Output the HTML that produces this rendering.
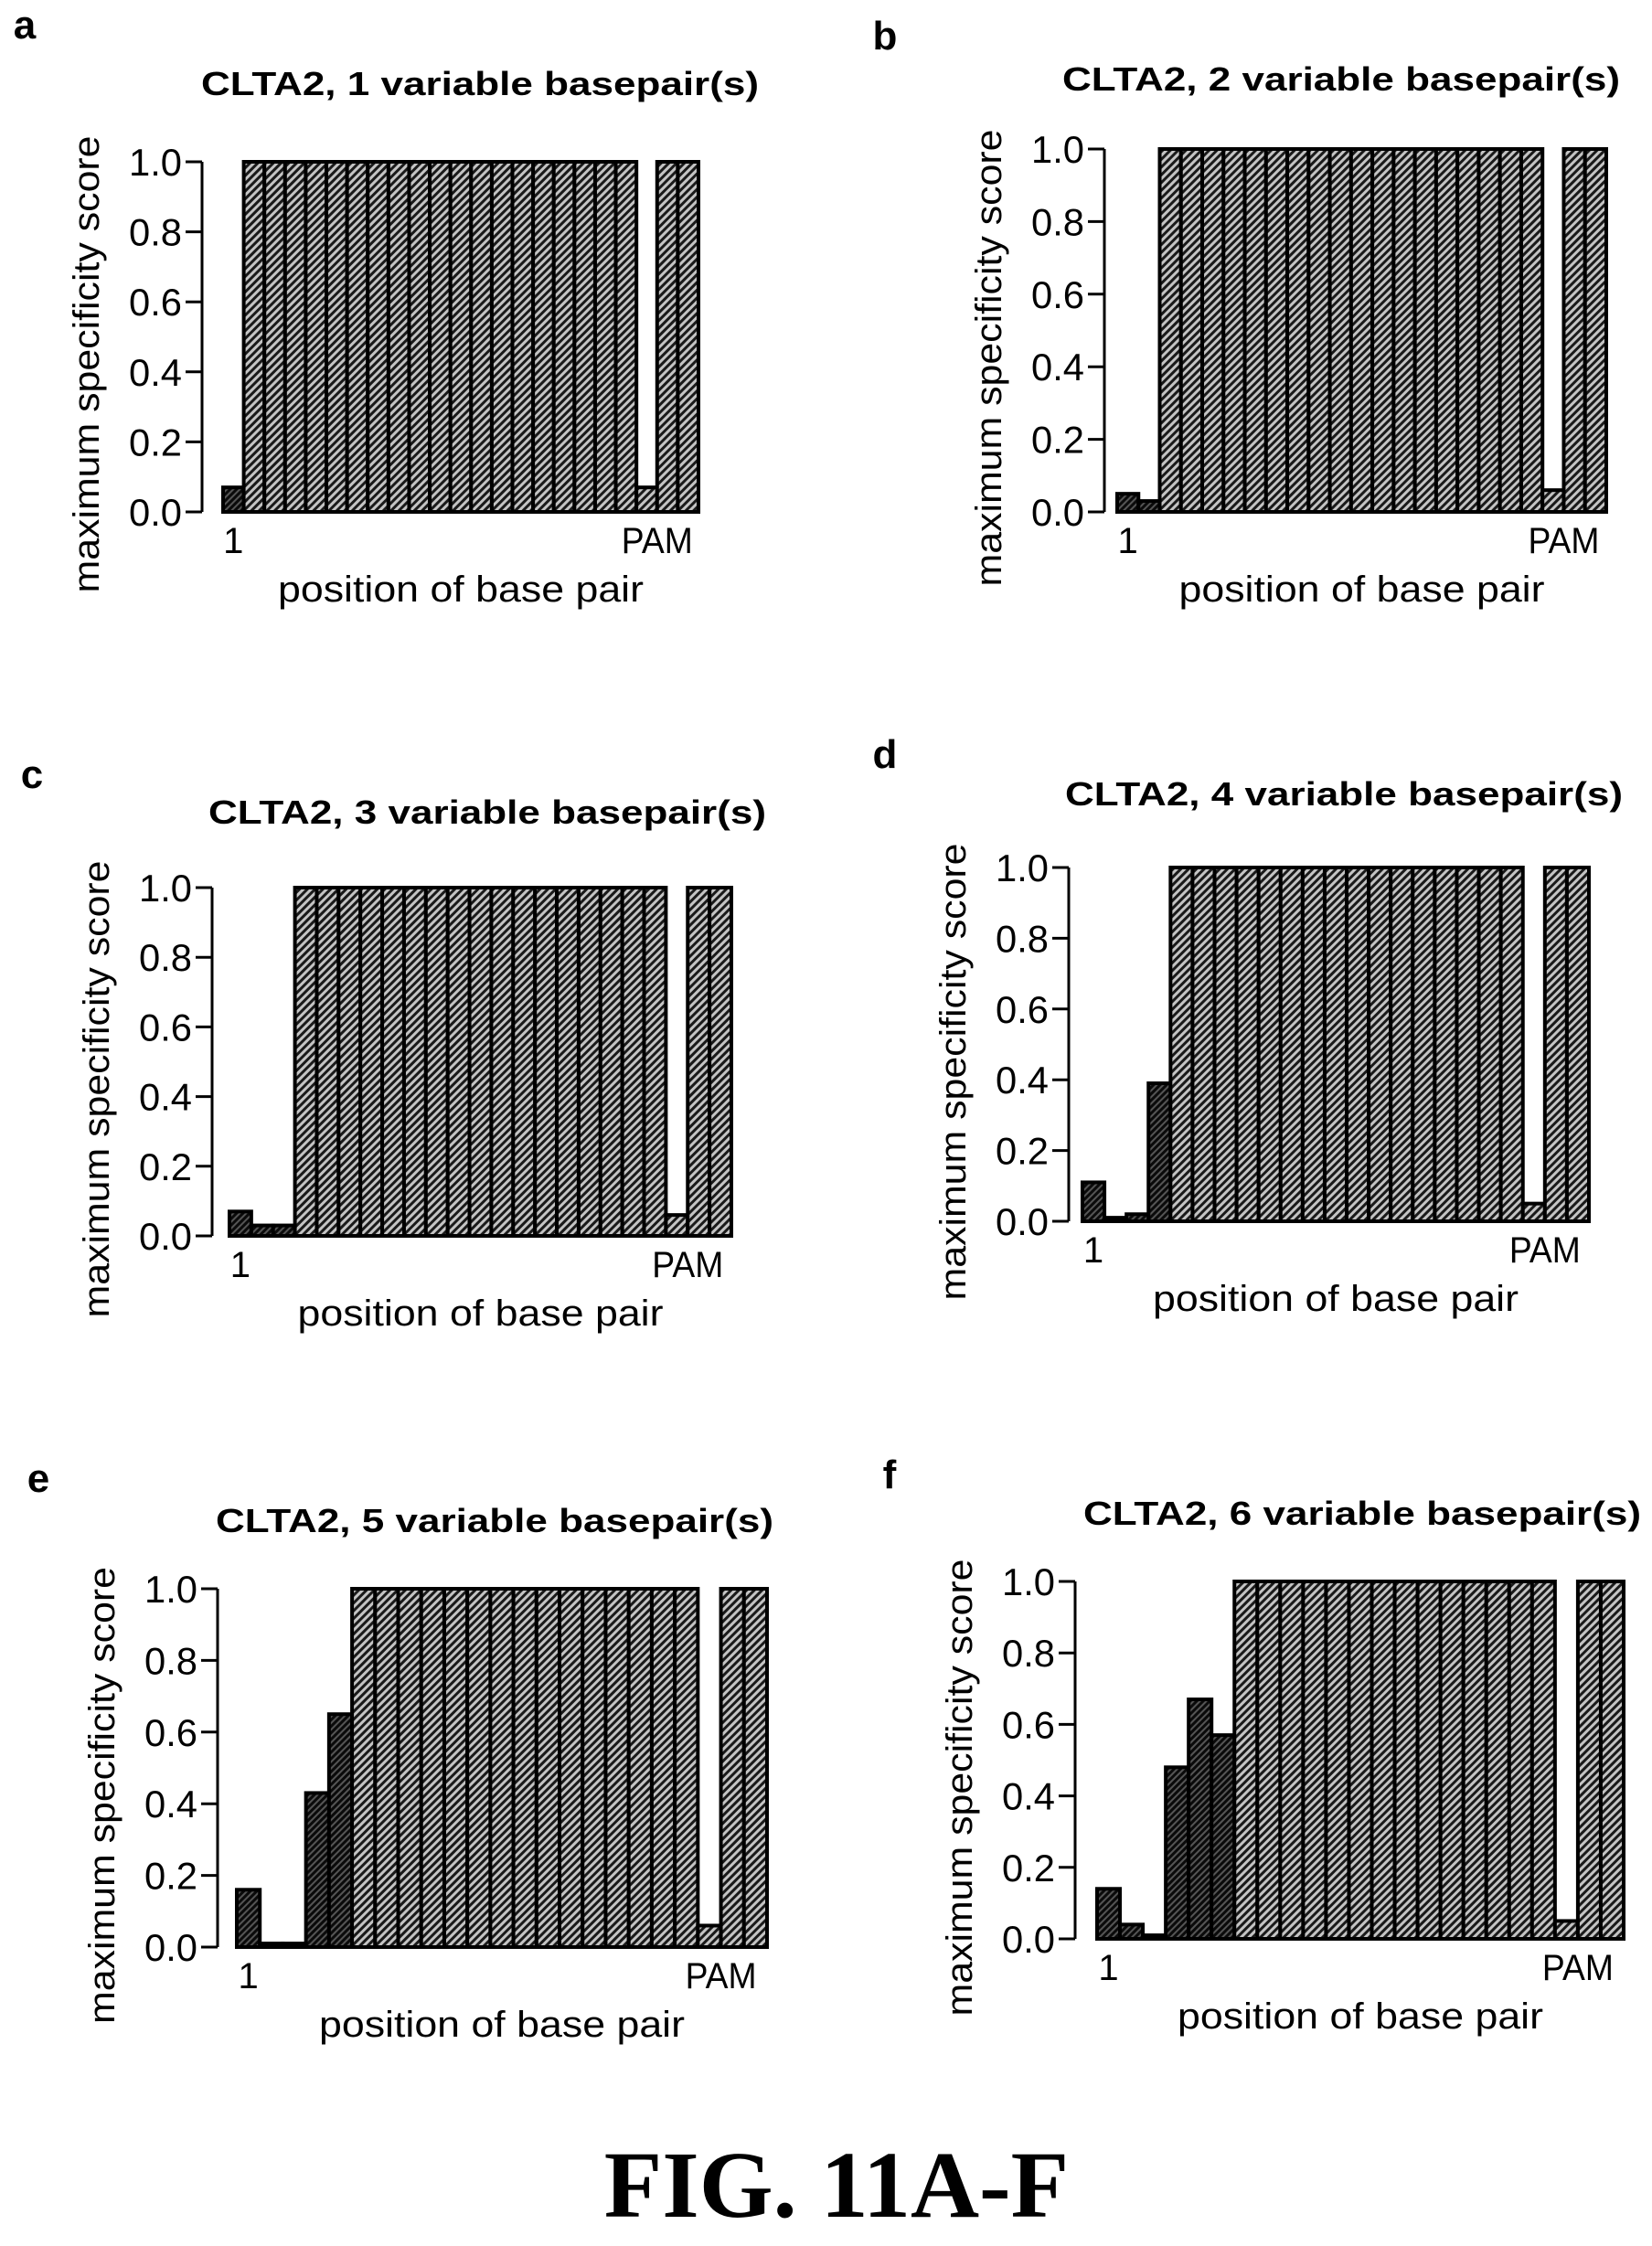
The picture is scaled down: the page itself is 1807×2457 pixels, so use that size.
<!DOCTYPE html>
<html><head><meta charset="utf-8"><style>
html,body{margin:0;padding:0;background:#fff}
svg{display:block}
text{font-family:"Liberation Sans",sans-serif;fill:#000}
</style></head><body>
<svg id="fig" width="1807" height="2457" viewBox="0 0 1807 2457">
<defs>
<pattern id="light" patternUnits="userSpaceOnUse" width="6" height="6" patternTransform="rotate(45)">
<rect width="6" height="6" fill="#c4c4c4"/><rect width="3" height="6" fill="#1a1a1a"/></pattern>
<pattern id="dark" patternUnits="userSpaceOnUse" width="5" height="5" patternTransform="rotate(45)">
<rect width="5" height="5" fill="#555"/><rect width="3" height="5" fill="#0a0a0a"/></pattern>
</defs>
<text x="915" y="2425" text-anchor="middle" font-weight="bold" font-size="104" style="font-family:'Liberation Serif',serif">FIG. 11A-F</text>
</svg>
<script>
const valuesA = [0.07,1,1,1,1,1,1,1,1,1,1,1,1,1,1,1,1,1,1,1,0.07,1,1];
const valuesB = [0.05,0.03,1,1,1,1,1,1,1,1,1,1,1,1,1,1,1,1,1,1,0.06,1,1];
const valuesC = [0.07,0.03,0.03,1,1,1,1,1,1,1,1,1,1,1,1,1,1,1,1,1,0.06,1,1];
const valuesD = [0.11,0.01,0.02,0.39,1,1,1,1,1,1,1,1,1,1,1,1,1,1,1,1,0.05,1,1];
const valuesE = [0.16,0.01,0.01,0.43,0.65,1,1,1,1,1,1,1,1,1,1,1,1,1,1,1,0.06,1,1];
const valuesF = [0.14,0.04,0.01,0.48,0.67,0.57,1,1,1,1,1,1,1,1,1,1,1,1,1,1,0.05,1,1];
const variableCounts = [1,2,3,4,5,6];
const panelLetters = ['a','b','c','d','e','f'];
const yTicks = [0,0.2,0.4,0.6,0.8,1.0];
const yTickLabels = ['0.0','0.2','0.4','0.6','0.8','1.0'];
const allValues = [valuesA,valuesB,valuesC,valuesD,valuesE,valuesF];

const layouts = [
 {ax:221,y1:177,y0:560,bl:244,br:764,tx:525,ty:104,lx:27,ly:42},
 {ax:1208,y1:163,y0:560,bl:1222,br:1757,tx:1467,ty:99,lx:968,ly:54},
 {ax:232,y1:971,y0:1352,bl:251,br:800,tx:533,ty:901,lx:35,ly:862},
 {ax:1169,y1:949,y0:1336,bl:1184,br:1738,tx:1470,ty:881,lx:968,ly:840},
 {ax:238,y1:1738,y0:2130,bl:259,br:839,tx:541,ty:1676,lx:42,ly:1632},
 {ax:1176,y1:1730,y0:2121,bl:1200,br:1776,tx:1490,ty:1668,lx:973,ly:1628}
];
const NS='http://www.w3.org/2000/svg';
const svg=document.getElementById('fig');
function mk(tag,attrs,parent,txt){const e=document.createElementNS(NS,tag);for(const k in attrs)e.setAttribute(k,attrs[k]);if(txt!==undefined)e.textContent=txt;parent.appendChild(e);return e;}

allValues.forEach((vals,pi)=>{
  const L=layouts[pi];
  const g=mk('g',{},svg);
  
  
  const yS=v=>L.y0-(L.y0-L.y1)*v;
  const bw=(L.br-L.bl)/vals.length;
  const xS=i=>L.bl+i*bw;
  const let_=mk('text',{x:L.lx,y:L.ly,'font-size':44,'font-weight':'bold','text-anchor':'middle'},g,panelLetters[pi]);
  
  
  const t=mk('text',{x:L.tx,y:L.ty,'font-size':36,'font-weight':'bold','text-anchor':'middle',textLength:610,lengthAdjust:'spacingAndGlyphs'},g,'CLTA2, '+variableCounts[pi]+' variable basepair(s)');
  
  
  const yl=mk('text',{x:0,y:0,'font-size':40,'text-anchor':'middle',textLength:500,lengthAdjust:'spacingAndGlyphs',transform:`translate(${L.ax-113},${(L.y0+L.y1)/2+30}) rotate(-90)`},g,'maximum specificity score');
  
  
  const axl=mk('line',{x1:L.ax,x2:L.ax,y1:L.y1,y2:L.y0,stroke:'#000','stroke-width':3},g);
  
  
  yTicks.forEach((tv,ti)=>{
    const y=yS(tv);
    const tk=mk('line',{x1:L.ax-18,x2:L.ax,y1:y,y2:y,stroke:'#000','stroke-width':3},g);
    
    
    const tl=mk('text',{x:L.ax-22,y:y+15,'font-size':42,'text-anchor':'end',textLength:58,lengthAdjust:'spacingAndGlyphs'},g,yTickLabels[ti]);
    
    
  });
  vals.forEach((v,i)=>{
    const isDark = i < variableCounts[pi];
    const r=mk('rect',{x:xS(i),y:yS(v),width:bw,height:L.y0-yS(v),fill:isDark?'url(#dark)':'url(#light)',stroke:'#000','stroke-width':4},g);
    
    
  });
  const x1=mk('text',{x:xS(0)+bw/2,y:L.y0+45,'font-size':40,'text-anchor':'middle'},g,'1');
  
  
  const xp=mk('text',{x:xS(21),y:L.y0+45,'font-size':40,'text-anchor':'middle',textLength:78,lengthAdjust:'spacingAndGlyphs'},g,'PAM');
  
  
  const xt=mk('text',{x:(L.bl+L.br)/2,y:L.y0+98,'font-size':40,'text-anchor':'middle',textLength:400,lengthAdjust:'spacingAndGlyphs'},g,'position of base pair');
  
  
});
</script>
</body></html>
